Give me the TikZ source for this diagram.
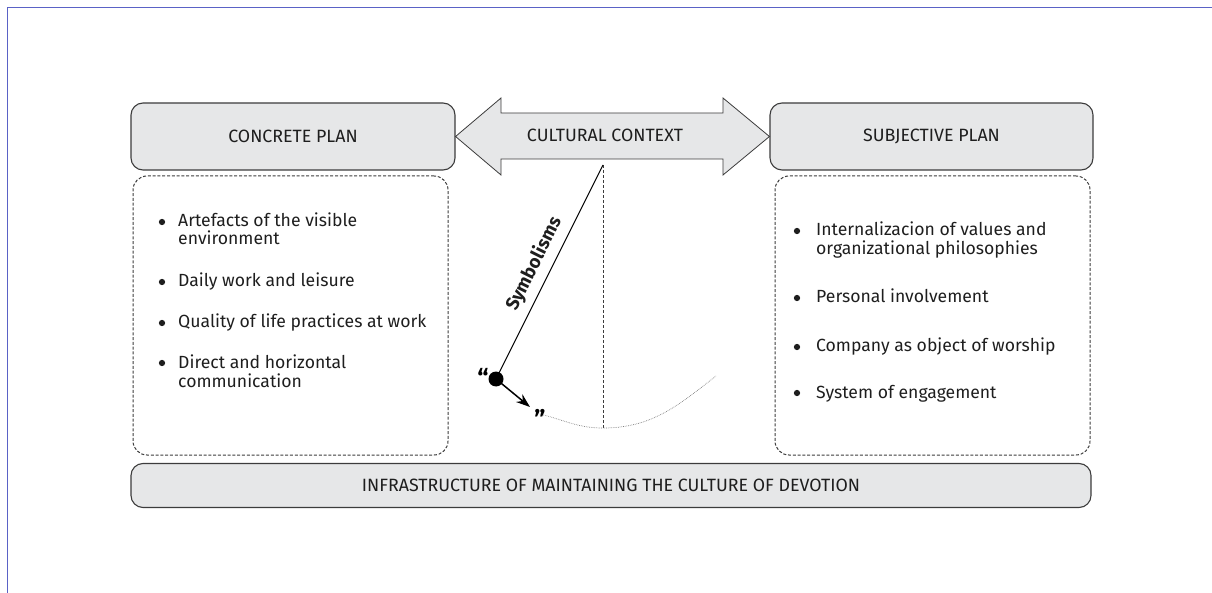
\documentclass[tikz,border=0pt]{standalone}
\usepackage{fontspec}
\setmainfont{Fira Sans}
\usetikzlibrary{arrows.meta}
\definecolor{boxfill}{HTML}{E6E7E8}
\definecolor{boxline}{HTML}{3C3C3C}
\definecolor{txt}{HTML}{1E1E1E}
\definecolor{frame}{HTML}{5A62C6}
\tikzset{
  plan/.style={draw=boxline, fill=boxfill, line width=1.1pt, rounded corners=12pt, inner sep=0pt, text=txt, font=\fontsize{17.8}{20}\selectfont},
  dashbox/.style={draw=boxline, line width=1pt, dash pattern=on 3pt off 1.8pt, rounded corners=14pt, inner sep=0pt},
  item/.style={anchor=base west, inner sep=0pt, text=txt, font=\fontsize{17.6}{20}\selectfont},
  bul/.style={circle, fill=txt, inner sep=0pt, minimum size=6.3pt},
}
\begin{document}
\begin{tikzpicture}[x=1pt,y=-1pt]
\useasboundingbox (0,0) rectangle (1212,593);
% frame
\draw[frame, line width=1.8pt] (7.5,593) -- (7.5,7.5) -- (1212,7.5);
% top boxes
\node[plan, minimum width=324pt, minimum height=67pt] (concrete) at (293,136.5) {CONCRETE PLAN};
\node[plan, minimum width=323pt, minimum height=67pt] (subjective) at (931.5,136.5) {SUBJECTIVE PLAN};
% double arrow
\coordinate (al) at (concrete.east);
\coordinate (ar) at (subjective.west);
\draw[draw=boxline, fill=boxfill, line width=0.8pt, line join=miter]
  (al) -- (501,98) -- (501,113) -- (723,113) -- (723,98) -- (ar) -- (723,175) -- (723,159) -- (501,159) -- (501,175) -- cycle;
\node[text=txt, font=\fontsize{17.8}{20}\selectfont, inner sep=0pt] (context) at (605,135) {CULTURAL CONTEXT};
% dashed boxes
\node[dashbox, minimum width=315pt, minimum height=279pt] (left) at (290.5,315.5) {};
\node[dashbox, minimum width=315pt, minimum height=279pt] (right) at (932.5,315.5) {};
% bottom box
\node[plan, minimum width=960pt, minimum height=44pt] (infra) at (611,485.5) {INFRASTRUCTURE OF MAINTAINING THE CULTURE OF DEVOTION};
% left list
\node[bul] (b1) at (162,222) {};
\node[item] (l1a) at (178,227) {Artefacts of the visible};
\node[item] (l1b) at (178,245) {environment};
\node[bul] (b2) at (162,282) {};
\node[item] (l2) at (178,287) {Daily work and leisure};
\node[bul] (b3) at (162,323) {};
\node[item] (l3) at (178,328) {Quality of life practices at work};
\node[bul] (b4) at (162,363) {};
\node[item] (l4a) at (178,368) {Direct and horizontal};
\node[item] (l4b) at (178,387) {communication};
% right list
\node[bul] (r1) at (797,231) {};
\node[item] (m1a) at (816,236) {Internalizacion of values and};
\node[item] (m1b) at (816,255) {organizational philosophies};
\node[bul] (r2) at (797,298) {};
\node[item] (m2) at (816,303) {Personal involvement};
\node[bul] (r3) at (797,347) {};
\node[item] (m3) at (816,352) {Company as object of worship};
\node[bul] (r4) at (797,393) {};
\node[item] (m4) at (816,398) {System of engagement};
% pendulum
\coordinate (pivot) at (603,165);
\coordinate (low) at (603,428);
\coordinate (arcL) at (540,414);
\coordinate (arcR) at (716,376);
\coordinate (tip) at (530,407);
\draw[boxline, line width=1pt, dash pattern=on 3pt off 2pt] (pivot) -- (low);
\draw[gray, line width=0.7pt, densely dotted] (arcL) to[out=-14,in=180] (low) to[out=0,in=-142] (arcR);
\node[circle, fill=black, inner sep=0pt, minimum size=15pt] (bob) at (496,379) {};
\draw[black, line width=1pt] (bob.center) -- (pivot);
\draw[black, line width=1.5pt, -{Stealth[length=14pt,width=10pt]}] (bob.center) -- (tip);
\node[font=\bfseries\fontsize{18.5}{18}\selectfont, rotate=63.4, inner sep=0pt, text=txt] (symb) at (534,264) {Symbolisms};
\node[font=\bfseries\fontsize{25}{25}\selectfont, inner sep=0pt] (q1) at (483,378) {“};
\node[font=\bfseries\fontsize{25}{25}\selectfont, inner sep=0pt] (q2) at (540,419) {”};
\end{tikzpicture}
\end{document}
